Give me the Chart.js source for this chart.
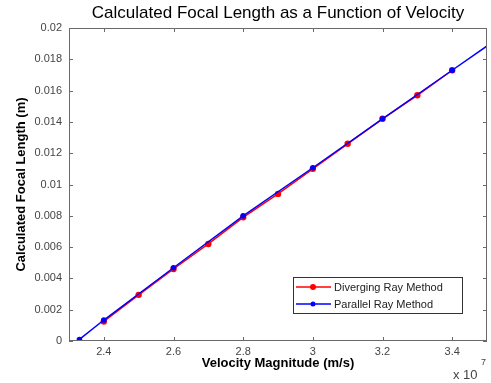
<!DOCTYPE html>
<html>
<head>
<meta charset="utf-8">
<script src="https://cdn.jsdelivr.net/npm/chart.js@4/dist/chart.umd.min.js"></script>
<style>
  body { margin: 0; background: #fff; }
  #wrap { width: 491px; height: 383px; }
</style>
</head>
<body>
<div id="wrap"><canvas id="focalChart" width="491" height="383"></canvas></div>
<script>
// values
const divergingVelocity = [2.4e7, 2.5e7, 2.6e7, 2.7e7, 2.8e7, 2.9e7, 3.0e7, 3.1e7, 3.2e7, 3.3e7, 3.4e7];
const divergingFocal = [0.00125, 0.00295, 0.0046, 0.0062, 0.0079, 0.0094, 0.0110, 0.0126, 0.0142, 0.0157, 0.0173];
const parallelVelocity = [2.33e7, 2.4e7, 2.6e7, 2.8e7, 3.0e7, 3.2e7, 3.4e7, 3.6e7];
const parallelFocal = [0.0001, 0.00134, 0.00468, 0.0080, 0.01107, 0.0142, 0.0173, 0.0204];
const xTickValues = [2.4, 2.6, 2.8, 3.0, 3.2, 3.4];
const yTickValues = [0, 0.002, 0.004, 0.006, 0.008, 0.01, 0.012, 0.014, 0.016, 0.018, 0.02];
const seriesNames = ['Diverging Ray Method', 'Parallel Ray Method'];
const seriesColors = ['#ff0000', '#0000ff'];

const FONT = '"Liberation Sans", Arial, sans-serif';

function toPoints(xs, ys) {
    return xs.map((v, i) => ({ x: v, y: ys[i] }));
}

const matlabAxes = {
    id: 'matlabAxes',
    afterDraw(chart) {
        const { ctx, chartArea: a, scales: { x, y } } = chart;
        ctx.save();

        // box and inward ticks
        ctx.strokeStyle = '#6a6a6a';
        ctx.lineWidth = 1;
        ctx.strokeRect(a.left + 0.5, a.top + 0.5, a.right - a.left - 1, a.bottom - a.top - 1);
        ctx.beginPath();
        xTickValues.forEach(v => {
            const px = Math.round(x.getPixelForValue(v * 1e7)) + 0.5;
            ctx.moveTo(px, a.bottom); ctx.lineTo(px, a.bottom - 4);
            ctx.moveTo(px, a.top); ctx.lineTo(px, a.top + 4);
        });
        yTickValues.forEach(v => {
            const py = Math.round(y.getPixelForValue(v)) + 0.5;
            ctx.moveTo(a.left, py); ctx.lineTo(a.left + 4, py);
            ctx.moveTo(a.right, py); ctx.lineTo(a.right - 4, py);
        });
        ctx.stroke();

        const cx = (a.left + a.right) / 2;
        ctx.fillStyle = '#000';
        ctx.textAlign = 'center';
        ctx.textBaseline = 'alphabetic';
        ctx.font = '17px ' + FONT;
        ctx.fillText('Calculated Focal Length as a Function of Velocity', cx, 18);

        ctx.font = 'bold 13px ' + FONT;
        ctx.fillText('Velocity Magnitude (m/s)', cx, 367);

        ctx.save();
        ctx.translate(25, (a.top + a.bottom) / 2);
        ctx.rotate(-Math.PI / 2);
        ctx.fillText('Calculated Focal Length (m)', 0, 0);
        ctx.restore();

        // exponent label
        ctx.fillStyle = '#444';
        ctx.textAlign = 'left';
        ctx.font = '13px ' + FONT;
        ctx.fillText('x', 453, 379);
        ctx.fillText('10', 463, 379);
        ctx.font = '9px ' + FONT;
        ctx.fillText('7', 481, 365);

        // legend
        const lx = 293, ly = 277, lw = 169, lh = 36;
        ctx.fillStyle = '#fff';
        ctx.fillRect(lx, ly, lw, lh);
        ctx.strokeStyle = '#333';
        ctx.strokeRect(lx + 0.5, ly + 0.5, lw, lh);
        ctx.font = '11px ' + FONT;
        ctx.textBaseline = 'middle';
        seriesNames.forEach((name, i) => {
            const ry = ly + 10 + i * 17;
            ctx.strokeStyle = seriesColors[i];
            ctx.lineWidth = 1.5;
            ctx.beginPath();
            ctx.moveTo(lx + 3, ry); ctx.lineTo(lx + 38, ry);
            ctx.stroke();
            ctx.fillStyle = seriesColors[i];
            ctx.beginPath();
            ctx.arc(lx + 20, ry, i === 0 ? 3 : 2.5, 0, Math.PI * 2);
            ctx.fill();
            ctx.fillStyle = '#222';
            ctx.fillText(name, lx + 41, ry + 1);
        });
        ctx.restore();
    }
};

new Chart(document.getElementById('focalChart'), {
    type: 'scatter',
    data: {
        datasets: [{
            label: seriesNames[0],
            data: toPoints(divergingVelocity, divergingFocal),
            showLine: true,
            borderColor: seriesColors[0],
            backgroundColor: seriesColors[0],
            borderWidth: 1.5,
            pointRadius: 3.2,
            pointBorderWidth: 0,
            order: 1
        }, {
            label: seriesNames[1],
            data: toPoints(parallelVelocity, parallelFocal),
            showLine: true,
            borderColor: seriesColors[1],
            backgroundColor: seriesColors[1],
            borderWidth: 1.5,
            pointRadius: 2.8,
            pointBorderWidth: 0,
            order: 0
        }]
    },
    options: {
        responsive: false,
        animation: false,
        layout: { padding: { left: 0, right: 2, top: 28, bottom: 0 } },
        plugins: {
            legend: { display: false },
            tooltip: { enabled: false }
        },
        scales: {
            x: {
                type: 'linear',
                min: 2.3e7,
                max: 3.5e7,
                grid: { display: false, drawTicks: false },
                border: { display: false },
                afterFit: s => { s.height = 42; },
                afterBuildTicks: s => { s.ticks = xTickValues.map(v => ({ value: v * 1e7 })); },
                ticks: {
                    padding: 4,
                    color: '#444',
                    font: { family: FONT, size: 11 },
                    callback: v => String(Number((v / 1e7).toFixed(1)))
                }
            },
            y: {
                type: 'linear',
                min: 0,
                max: 0.02,
                grid: { display: false, drawTicks: false },
                border: { display: false },
                afterFit: s => { s.width = 69; },
                afterBuildTicks: s => { s.ticks = yTickValues.map(v => ({ value: v })); },
                ticks: {
                    padding: 7,
                    color: '#444',
                    font: { family: FONT, size: 11 },
                    callback: v => String(Number(v.toFixed(3)))
                }
            }
        }
    },
    plugins: [matlabAxes]
});
</script>
</body>
</html>
